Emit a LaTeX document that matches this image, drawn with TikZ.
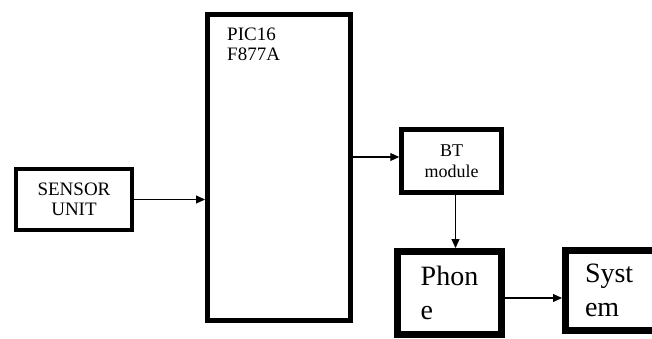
\documentclass[tikz,border=0pt]{standalone}
\usepackage{fontspec}
\setmainfont{Liberation Serif}
\usetikzlibrary{arrows.meta,positioning,calc}

\begin{document}
\begin{tikzpicture}[x=1pt, y=1pt,
  >={Triangle[length=9pt, width=8pt]},
  block/.style={draw, line width=4.5pt, inner sep=0pt, align=center,
                font=\fontsize{19}{20}\selectfont},
  big/.style={draw, line width=7pt, inner sep=0pt, align=left,
              font=\fontsize{28}{34}\selectfont},
  flow/.style={->, line width=1.1pt}]
  \useasboundingbox (0,0) rectangle (652,338);
  \node[block, line width=4pt, minimum width=116pt, minimum height=61pt]
    (sensor) at (74,138.5) {SENSOR\\UNIT};
  \node[block, line width=5pt, minimum width=143pt, minimum height=306pt,
        label={[anchor=north west, align=left, inner sep=0pt,
                font=\fontsize{19}{20}\selectfont, xshift=22pt, yshift=-16pt]
               north west:{PIC16\\F877A}}]
    (pic) at (279,170.5) {};
  \node[block, minimum width=100pt, minimum height=63pt,
        font=\fontsize{18}{21}\selectfont]
    (bt) at (451.5,177) {BT\\module};
  \node[big, minimum width=104pt, minimum height=83pt]
    (phone) at (449.5,45) {Phon\\e};
  \node[big, minimum width=100pt, minimum height=80pt, text width=61pt]
    (system) at (615.5,47.5) {Syst\\em};
  \draw[flow] (sensor.east) -- (sensor.east -| pic.west);
  \draw[flow] ([yshift=4pt]bt.west -| pic.east) -- ([yshift=4pt]bt.west);
  \draw[flow] ([xshift=4pt]bt.south) -- ([xshift=4pt]bt.south |- phone.north);
  \draw[flow] ([yshift=-5pt]phone.east) -- ([yshift=-5pt]phone.east -| system.west);
\end{tikzpicture}
\end{document}
